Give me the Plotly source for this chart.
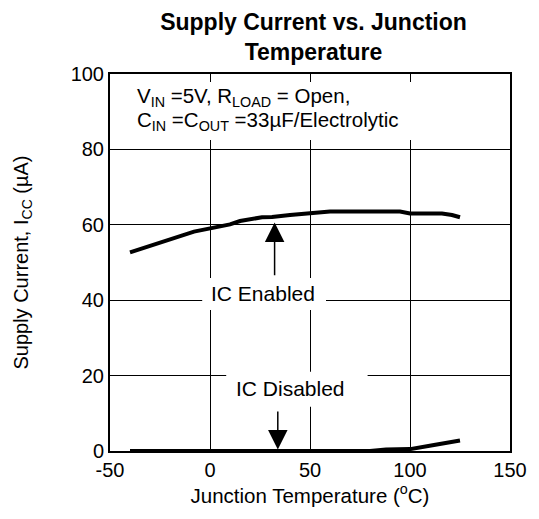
import plotly.graph_objects as go

# Data
temp_enabled = [-40, -24, -8, 10, 15, 26, 31, 40, 50, 60, 80, 95, 100, 116, 121, 125]
icc_enabled = [52.7, 55.5, 58.2, 60.1, 61.0, 62.0, 62.1, 62.6, 63.0, 63.5, 63.5, 63.5, 63.0, 63.0, 62.6, 62.0]

temp_disabled = [-40, -20, 0, 20, 40, 60, 80, 88, 100, 112, 124, 125]
icc_disabled = [0, 0, 0, 0, 0, 0, 0, 0.4, 0.5, 1.6, 2.7, 2.8]

x_ticks = [-50, 0, 50, 100, 150]
y_ticks = [0, 20, 40, 60, 80, 100]

FONT = "Liberation Sans, Arial, sans-serif"

# page body has an 8px default margin, so the figure is sized to fit the window
W, H = 531, 511

fig = go.Figure()
fig.add_trace(go.Scatter(x=temp_enabled, y=icc_enabled, mode="lines",
                         line=dict(color="black", width=4), showlegend=False))
fig.add_trace(go.Scatter(x=temp_disabled, y=icc_disabled, mode="lines",
                         line=dict(color="black", width=4), showlegend=False))

# white boxes covering gridlines behind the labels
for x0, x1, y0, y1 in [(-49, 101.3, 82.5, 97.9), (-3.9, 58, 37.4, 45.9), (8.1, 78.8, 11.75, 21.0)]:
    fig.add_shape(type="rect", xref="x", yref="y", x0=x0, x1=x1, y0=y0, y1=y1,
                  fillcolor="white", line=dict(width=0), layer="above")

anns = [
    dict(x=-37.5, y=94.0, text="V<sub>IN</sub> =5V, R<sub>LOAD</sub> = Open,", xanchor="left", yanchor="middle", size=20.5),
    dict(x=-37.5, y=87.5, text="C<sub>IN</sub> =C<sub>OUT</sub> =33µF/Electrolytic", xanchor="left", yanchor="middle", size=20.5),
    dict(x=26.5, y=41.7, text="IC Enabled", xanchor="center", yanchor="middle", size=21),
    dict(x=40, y=16.6, text="IC Disabled", xanchor="center", yanchor="middle", size=21),
]
for a in anns:
    sz = a.pop("size")
    fig.add_annotation(xref="x", yref="y", showarrow=False, font=dict(family=FONT, size=sz, color="black"), **a)

# arrows
fig.add_annotation(x=32.3, y=60.6, ax=32.3, ay=46.2, xref="x", yref="y", axref="x", ayref="y",
                   text="", showarrow=True, arrowhead=2, arrowsize=2.6, arrowwidth=1.5, arrowcolor="black")
fig.add_annotation(x=33.9, y=0.4, ax=33.9, ay=10.9, xref="x", yref="y", axref="x", ayref="y",
                   text="", showarrow=True, arrowhead=2, arrowsize=2.6, arrowwidth=1.5, arrowcolor="black")

fig.update_layout(
    width=W, height=H,
    margin=dict(l=98, r=18, t=66, b=68),
    paper_bgcolor="white", plot_bgcolor="white",
    font=dict(family=FONT, size=20, color="black"),
    title=dict(text="<b>Supply Current vs. Junction<br>Temperature</b>",
               x=(98 + (W - 18 - 98) / 2) / W, xanchor="center",
               y=1 - 22 / H, yanchor="top", font=dict(family=FONT, size=23, color="black")),
)
fig.update_xaxes(range=[-50, 150], tickvals=x_ticks, ticktext=[str(v) for v in x_ticks],
                 showgrid=True, gridcolor="black", gridwidth=1,
                 showline=True, linecolor="black", linewidth=2, mirror=True,
                 ticks="", zeroline=False,
                 title=dict(text="Junction Temperature (<sup>o</sup>C)", standoff=8,
                            font=dict(family=FONT, size=20.5)),
                 tickfont=dict(family=FONT, size=20))
fig.update_yaxes(range=[0, 100], tickvals=y_ticks, ticktext=[str(v) for v in y_ticks],
                 showgrid=True, gridcolor="black", gridwidth=1,
                 showline=True, linecolor="black", linewidth=2, mirror=True,
                 ticks="", zeroline=False,
                 title=dict(text="Supply Current, I<sub>CC</sub> (µA)", standoff=37,
                            font=dict(family=FONT, size=20)),
                 tickfont=dict(family=FONT, size=20))

fig.write_html("out.html")
